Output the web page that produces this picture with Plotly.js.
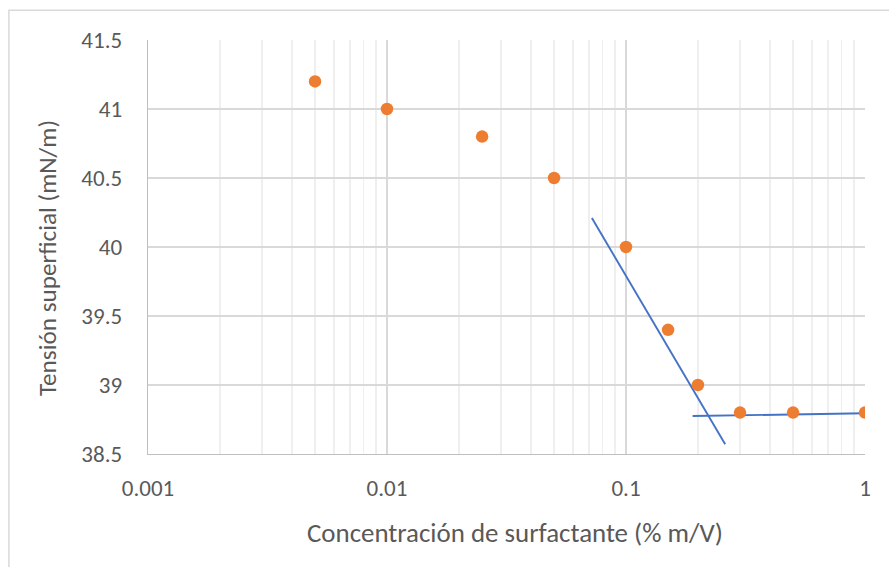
<!DOCTYPE html>
<html>
<head>
<meta charset="utf-8">
<script src="https://cdn.plot.ly/plotly-3.0.1.min.js"></script>
<style>
html,body{margin:0;padding:0;background:#fff;}
#chart{width:889px;height:567px;}
</style>
</head>
<body>
<div id="chart"></div>
<script>
const concentracion = [0.005, 0.01, 0.025, 0.05, 0.1, 0.15, 0.2, 0.3, 0.5, 1];
const tension = [41.2, 41.0, 40.8, 40.5, 40.0, 39.4, 39.0, 38.8, 38.8, 38.8];
const lineaPendienteX = [0.072, 0.26];
const lineaPendienteY = [40.21, 38.57];
const lineaMesetaX = [0.19, 1.0];
const lineaMesetaY = [38.775, 38.795];
const xTickVals = [0.001, 0.01, 0.1, 1];
const xTickText = ['0.001', '0.01', '0.1', '1'];
const yTickVals = [38.5, 39, 39.5, 40, 40.5, 41, 41.5];
const yTickText = ['38.5', '39', '39.5', '40', '40.5', '41', '41.5'];
const xTitle = 'Concentración de surfactante (% m/V)';
const yTitle = 'Tensión superficial (mN/m)';

const FONT = 'Carlito, Lato, "Open Sans", sans-serif';
const traces = [
  {x: lineaPendienteX, y: lineaPendienteY, mode: 'lines', line: {color: '#4472C4', width: 1.9}, hoverinfo: 'skip', showlegend: false},
  {x: lineaMesetaX, y: lineaMesetaY, mode: 'lines', line: {color: '#4472C4', width: 1.9}, hoverinfo: 'skip', showlegend: false},
  {x: concentracion, y: tension, mode: 'markers', marker: {color: '#ED7D31', size: 12.5}, showlegend: false}
];
const layout = {
  width: 889, height: 567,
  margin: {l: 148, r: 24, t: 40, b: 113},
  paper_bgcolor: '#fff', plot_bgcolor: '#fff',
  font: {family: FONT, color: '#595959', size: 23},
  xaxis: {
    type: 'log', range: [-3, 0],
    tickvals: xTickVals, ticktext: xTickText,
    showgrid: true, gridcolor: '#D9D9D9', gridwidth: 1.3,
    minor: {dtick: 'D1', showgrid: true, gridcolor: '#EFEFEF', gridwidth: 1.3, ticks: ''},
    showline: true, linecolor: '#BFBFBF', linewidth: 1.3,
    ticks: '', zeroline: false,
    ticklabelstandoff: 13,
    tickfont: {size: 23, color: '#595959', family: FONT}
  },
  yaxis: {
    range: [38.5, 41.5],
    tickvals: yTickVals, ticktext: yTickText,
    showgrid: true, gridcolor: '#D9D9D9', gridwidth: 1.3,
    showline: true, linecolor: '#BFBFBF', linewidth: 1.3,
    ticks: '', zeroline: false,
    ticklabelstandoff: 20,
    tickfont: {size: 23, color: '#595959', family: FONT}
  },
  annotations: [
    {text: xTitle, xref: 'paper', yref: 'paper', x: 0.512, y: -0.1908, xanchor: 'center', yanchor: 'middle', showarrow: false, font: {size: 26.9, color: '#595959', family: FONT}},
    {text: yTitle, xref: 'paper', yref: 'paper', x: -0.1409, y: 0.4734, xanchor: 'center', yanchor: 'middle', textangle: -90, showarrow: false, font: {size: 25.2, color: '#595959', family: FONT}}
  ],
  shapes: [
    {type: 'rect', xref: 'paper', yref: 'paper', x0: -0.194, x1: 1.1, y0: -0.3, y1: 1.072, line: {color: '#D9D9D9', width: 1.5}, fillcolor: 'rgba(0,0,0,0)', layer: 'below'}
  ]
};
Plotly.newPlot('chart', traces, layout, {displayModeBar: false, staticPlot: true});
</script>
</body>
</html>
